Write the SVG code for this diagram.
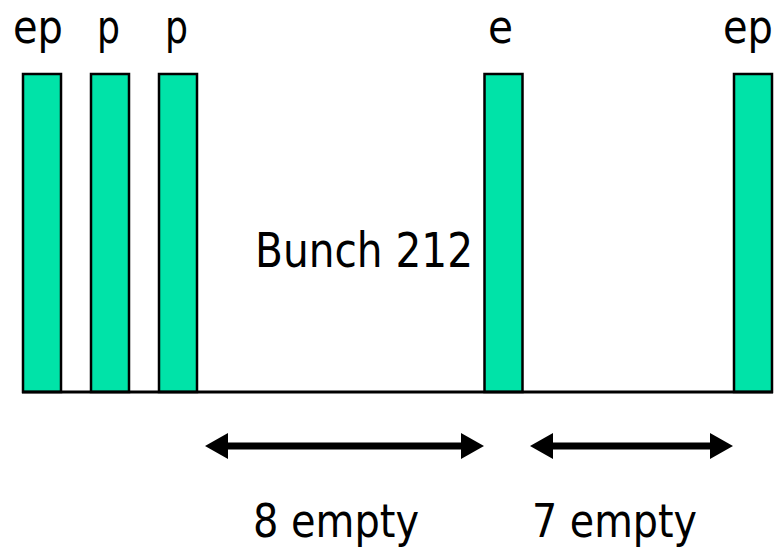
<svg xmlns="http://www.w3.org/2000/svg" width="779" height="548" viewBox="0 0 779 548">
  <style>
    .bunch { fill: #00E3A8; stroke: #000; stroke-width: 2.5; }
    .lbl { font-family: "DejaVu Sans Condensed", "DejaVu Sans", Tahoma, sans-serif; font-stretch: condensed; font-size: 48px; fill: #000; }
    .edge { font-size: 46px; }
    .axis { stroke: #000; stroke-width: 3; fill: none; }
    .span { fill: #000; stroke: none; }
  </style>
  <rect width="779" height="548" fill="#fff"/>

  <!-- filled bunch slots -->
  <g id="bunch-1">
    <rect class="bunch" x="23" y="74" width="38" height="318"/>
    <text class="lbl edge" x="13" y="43" textLength="50" lengthAdjust="spacingAndGlyphs">ep</text>
  </g>
  <g id="bunch-2">
    <rect class="bunch" x="91" y="74" width="38" height="318"/>
    <text class="lbl edge" x="97" y="43" textLength="23" lengthAdjust="spacingAndGlyphs">p</text>
  </g>
  <g id="bunch-3">
    <rect class="bunch" x="159" y="74" width="38" height="318"/>
    <text class="lbl edge" x="165" y="43" textLength="23" lengthAdjust="spacingAndGlyphs">p</text>
  </g>
  <g id="bunch-212">
    <rect class="bunch" x="484.5" y="74" width="38" height="318"/>
    <text class="lbl edge" x="488" y="43" textLength="25" lengthAdjust="spacingAndGlyphs">e</text>
    <text class="lbl" x="255" y="267" textLength="218" lengthAdjust="spacingAndGlyphs">Bunch 212</text>
  </g>
  <g id="bunch-last">
    <rect class="bunch" x="734" y="74" width="38" height="318"/>
    <text class="lbl edge" x="723" y="43" textLength="50" lengthAdjust="spacingAndGlyphs">ep</text>
  </g>

  <!-- baseline of the fill pattern -->
  <line class="axis" x1="22" y1="392" x2="773" y2="392"/>

  <!-- empty-slot spans -->
  <g id="spans">
    <polygon class="span" points="205,446 228,433 228,442.5 461,442.5 461,433 484,446 461,459 461,449.5 228,449.5 228,459"/>
    <polygon class="span" points="530,446 553,433 553,442.5 710,442.5 710,433 733,446 710,459 710,449.5 553,449.5 553,459"/>
    <text class="lbl edge" x="253" y="537" textLength="166" lengthAdjust="spacingAndGlyphs">8 empty</text>
    <text class="lbl edge" x="532" y="537" textLength="165" lengthAdjust="spacingAndGlyphs">7 empty</text>
  </g>
</svg>
